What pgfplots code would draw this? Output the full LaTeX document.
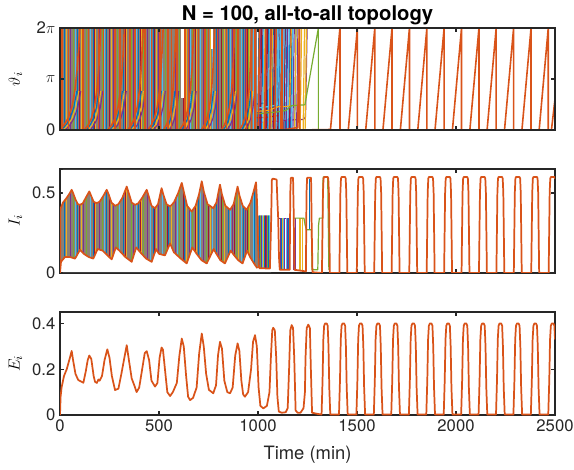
\documentclass[border=0pt]{standalone}
\usepackage{fontspec}
\setmainfont{TeX Gyre Heros}
\usepackage{pgfplots}
\pgfplotsset{compat=1.18}

% MATLAB line colours
\definecolor{mb}{rgb}{0,0.447,0.741}
\definecolor{mo}{rgb}{0.85,0.325,0.098}
\definecolor{my}{rgb}{0.929,0.694,0.125}
\definecolor{mp}{rgb}{0.494,0.184,0.556}
\definecolor{mg}{rgb}{0.466,0.674,0.188}
\definecolor{mc}{rgb}{0.301,0.745,0.933}
\definecolor{mr}{rgb}{0.635,0.078,0.184}
\definecolor{mix}{RGB}{140,128,118}

\pgfplotsset{
  mlab/.style={
    scale only axis, width=371.25pt,
    xmin=0, xmax=2500, xtick={0,500,...,2500},
    scaled ticks=false,
    /pgf/number format/1000 sep={},
    /pgf/number format/assume math mode=true,
    axis line style={draw=black!85, line width=1pt},
    tick style={draw=black!85, line width=1pt},
    major tick length=3pt,
    tick align=inside,
    ticklabel style={font=\fontsize{12.5}{14}\selectfont, text=black!85},
    ylabel style={font=\fontsize{13}{15}\selectfont, at={(axis description cs:-0.09,0.5)}, anchor=center},
    unbounded coords=jump,
    every axis plot/.append style={line join=round},
  }
}

\begin{document}
\begin{tikzpicture}
\useasboundingbox (0,0) rectangle (430.5pt,-352.5pt);

% ---------------- phases ----------------
\begin{axis}[mlab, at={(45pt,-97.5pt)}, anchor=south west, height=76.5pt,
  ymin=0, ymax=6.2832, ytick={0,3.1416,6.2832}, yticklabels={0,$\pi$,2$\pi$},
  xticklabels={}, axis on top,
  ylabel={$\vartheta_i$},
  title={N = 100, all-to-all topology},
  title style={font=\fontsize{15.2}{17}\selectfont\bfseries, at={(axis description cs:0.5,1)}, anchor=base, yshift=-0.5pt},
]
% dense phase cloud
\addplot[fill=mix, draw=none] coordinates {(0,0) (0,6.2832) (995,6.2832) (995,0)} -- cycle;
\addplot[ycomb, mb, line width=0.35pt] coordinates {(21,6.3)(88,6.3)(167,6.3)(232,6.3)(318,6.3)(397,6.3)(471,6.3)(548,6.3)(628,6.3)(700,6.3)(788,6.3)(850,6.3)(925,6.3)(980,6.3)};
\addplot[ycomb, my, line width=0.35pt] coordinates {(31,6.3)(105,6.3)(180,6.3)(260,6.3)(335,6.3)(410,6.3)(488,6.3)(560,6.3)(640,6.3)(690,6.3)(760,6.3)(830,6.3)(900,6.3)(958,6.3)};
\addplot[ycomb, mp, line width=0.35pt] coordinates {(52,6.3)(118,6.3)(200,6.3)(268,6.3)(370,6.3)(440,6.3)(495,6.3)(580,6.3)(655,6.3)(725,6.3)(800,6.3)(868,6.3)(935,6.3)};
\addplot[ycomb, mg, line width=0.35pt] coordinates {(65,6.3)(132,6.3)(212,6.3)(290,6.3)(360,6.3)(420,6.3)(530,6.3)(600,6.3)(668,6.3)(738,6.3)(820,6.3)(890,6.3)(950,6.3)};
\addplot[ycomb, mc, line width=0.35pt] coordinates {(78,6.3)(155,6.3)(225,6.3)(300,6.3)(385,6.3)(455,6.3)(515,6.3)(590,6.3)(660,6.3)(708,6.3)(770,6.3)(860,6.3)(915,6.3)(975,6.3)};
\addplot[ycomb, mr, line width=0.35pt] coordinates {(95,6.3)(172,6.3)(250,6.3)(330,6.3)(405,6.3)(478,6.3)(540,6.3)(620,6.3)(682,6.3)(750,6.3)(815,6.3)(880,6.3)(945,6.3)};
% white gaps in the cloud
\addplot[fill=white, draw=none] coordinates {(612,2.0) (612,6.3) (626,6.3) (626,2.0)} -- cycle;
\addplot[fill=white, draw=none] coordinates {(762,5.0) (762,6.3) (772,6.3) (772,5.0)} -- cycle;
% coloured waves below each fan
\addplot[mb, line width=0.8pt] coordinates {
 (10,.05)(30,.3)(50,.7)(70,1.4)(85,2.4) (nan,nan)
 (136,.05)(152,.3)(168,.7)(184,1.4)(196,2.4) (nan,nan)
 (255,.05)(271,.3)(287,.7)(303,1.4)(315,2.4) (nan,nan)
 (355,.05)(370,.3)(385,.7)(400,1.4)(411,2.4) (nan,nan)
 (456,.05)(471,.3)(486,.7)(501,1.4)(512,2.4) (nan,nan)
 (535,.05)(547,.3)(559,.7)(571,1.4)(580,2.4) (nan,nan)
 (616,.05)(630,.3)(644,.7)(658,1.4)(668,2.4) (nan,nan)
 (726,.05)(739,.3)(752,.7)(765,1.4)(775,2.4) (nan,nan)
 (827,.05)(840,.3)(853,.7)(866,1.4)(876,2.4) (nan,nan)
 (919,.05)(931,.3)(943,.7)(955,1.4)(964,2.4)};
\addplot[my, line width=0.8pt] coordinates {
 (20,.05)(40,.3)(60,.7)(80,1.4)(95,2.4) (nan,nan)
 (146,.05)(162,.3)(178,.7)(194,1.4)(206,2.4) (nan,nan)
 (265,.05)(281,.3)(297,.7)(313,1.4)(325,2.4) (nan,nan)
 (365,.05)(380,.3)(395,.7)(410,1.4)(421,2.4) (nan,nan)
 (466,.05)(481,.3)(496,.7)(511,1.4)(522,2.4) (nan,nan)
 (545,.05)(557,.3)(569,.7)(581,1.4)(590,2.4) (nan,nan)
 (626,.05)(640,.3)(654,.7)(668,1.4)(678,2.4) (nan,nan)
 (736,.05)(749,.3)(762,.7)(775,1.4)(785,2.4) (nan,nan)
 (837,.05)(850,.3)(863,.7)(876,1.4)(886,2.4) (nan,nan)
 (929,.05)(941,.3)(953,.7)(965,1.4)(974,2.4)};
\addplot[mp, line width=0.8pt] coordinates {
 (30,.05)(50,.3)(70,.7)(90,1.4)(105,2.4) (nan,nan)
 (156,.05)(172,.3)(188,.7)(204,1.4)(216,2.4) (nan,nan)
 (275,.05)(291,.3)(307,.7)(323,1.4)(335,2.4) (nan,nan)
 (375,.05)(390,.3)(405,.7)(420,1.4)(431,2.4) (nan,nan)
 (476,.05)(491,.3)(506,.7)(521,1.4)(532,2.4) (nan,nan)
 (555,.05)(567,.3)(579,.7)(591,1.4)(600,2.4) (nan,nan)
 (636,.05)(650,.3)(664,.7)(678,1.4)(688,2.4) (nan,nan)
 (746,.05)(759,.3)(772,.7)(785,1.4)(795,2.4) (nan,nan)
 (847,.05)(860,.3)(873,.7)(886,1.4)(896,2.4) (nan,nan)
 (939,.05)(951,.3)(963,.7)(975,1.4)(984,2.4)};
% desynchronised oscillators in the transition
\addplot[mb, line width=0.9pt] coordinates {(998,0)(1005,6.3)(nan,nan)(1018,0)(1025,6.3)(nan,nan)(1047,0)(1054,6.3)(nan,nan)(1070,0)(1077,6.3)(nan,nan)(1081,0)(1088,6.3)(nan,nan)(1096,0)(1103,6.3)(nan,nan)(1104,0)(1111,6.3)(nan,nan)(1112,0)(1119,6.3)(nan,nan)(1131,0)(1138,6.3)(nan,nan)(1140,0)(1147,6.3)(nan,nan)(1155,0)(1162,6.3)(nan,nan)(1165,0)(1172,6.3)(nan,nan)(1185,0)(1192,6.3)(nan,nan)(995,1.6)(1030,1.65)(1060,1.75)(1068,6.3)};
\addplot[mp, line width=0.9pt] coordinates {(1006,0)(1013,6.3)(nan,nan)(1037,0)(1044,6.3)(nan,nan)(1062,0)(1069,6.3)(nan,nan)(1088,0)(1095,6.3)(nan,nan)(1120,0)(1127,6.3)(nan,nan)(1143,0)(1150,6.3)(nan,nan)(1160,0)(1167,6.3)(nan,nan)(1176,0)(1183,6.3)(nan,nan)(1195,0)(1202,6.3)(nan,nan)(995,0.45)(1050,0.5)(1110,0.55)(1170,0.62)(1229,0.65)(1240,0.8)(1248,6.3)};
\addplot[mr, line width=0.9pt] coordinates {(1012,0)(1019,6.3)(nan,nan)(1041,0)(1048,6.3)(nan,nan)(1077,0)(1084,6.3)(nan,nan)(1100,0)(1107,6.3)(nan,nan)(1130,0)(1137,6.3)(nan,nan)(1158,0)(1165,6.3)(nan,nan)(995,0.75)(1040,0.78)(1080,0.85)(1110,0.9)(1118,6.3)};
\addplot[mc, line width=0.9pt] coordinates {(1024,0)(1031,6.3)(nan,nan)(1052,0)(1059,6.3)(nan,nan)(1090,0)(1097,6.3)(nan,nan)(1108,0)(1115,6.3)(nan,nan)(1125,0)(1132,6.3)(nan,nan)(1150,0)(1157,6.3)(nan,nan)(1170,0)(1177,6.3)(nan,nan)(995,1.35)(1040,1.42)(1080,1.5)(1100,1.55)(1106,6.3)};
\addplot[my, line width=0.9pt] coordinates {(1029,0)(1036,6.3)(nan,nan)(1066,0)(1073,6.3)(nan,nan)(1185,0)(1192,6.3)(nan,nan)(1200,0)(1207,6.3)(nan,nan)(1213,0)(1220,6.3)(nan,nan)(1228,0)(1235,6.3)(nan,nan)(1238,0)(1245,6.3)(nan,nan)(995,1.15)(1050,1.2)(1103,1.44)(1145,1.44)(1160,1.5)(1168,6.3)};
\addplot[mg, line width=0.9pt] coordinates {(995,1.0)(1040,1.05)(1090,1.1)(1140,1.2)(1170,1.5)(1237,1.55)(1305,6.3)(1305,0)(1330,0.02)};
% the last oscillator (drawn on top)
\addplot[ycomb, mo, line width=1.1pt] coordinates {(9,6.3)(43,6.3)(115,6.3)(143,6.3)(194,6.3)(219,6.3)(278,6.3)(303,6.3)(354,6.3)(379,6.3)(429,6.3)(463,6.3)(505,6.3)(545,6.3)(564,6.3)(590,6.3)(631,6.3)(650,6.3)(700,6.3)(732,6.3)(749,6.3)(795,6.3)(842,6.3)(875,6.3)(900,6.3)(942,6.3)(968,6.3)(985,6.3)};
\addplot[mo, line width=1.2pt] coordinates {
 (0,.05)(20,.3)(40,.7)(60,1.4)(75,2.4)(87,3.8)(95,5.2)(100,6.3) (nan,nan)
 (126,.05)(142,.3)(158,.7)(174,1.4)(186,2.4)(196,3.8)(202,5.2)(206,6.3) (nan,nan)
 (245,.05)(261,.3)(277,.7)(293,1.4)(305,2.4)(315,3.8)(321,5.2)(325,6.3) (nan,nan)
 (345,.05)(360,.3)(375,.7)(390,1.4)(401,2.4)(410,3.8)(416,5.2)(420,6.3) (nan,nan)
 (446,.05)(461,.3)(476,.7)(491,1.4)(502,2.4)(511,3.8)(517,5.2)(521,6.3) (nan,nan)
 (525,.05)(537,.3)(549,.7)(561,1.4)(570,2.4)(577,3.8)(582,5.2)(585,6.3) (nan,nan)
 (606,.05)(620,.3)(634,.7)(648,1.4)(658,2.4)(667,3.8)(672,5.2)(676,6.3) (nan,nan)
 (716,.05)(729,.3)(742,.7)(755,1.4)(765,2.4)(773,3.8)(778,5.2)(781,6.3) (nan,nan)
 (817,.05)(830,.3)(843,.7)(856,1.4)(866,2.4)(874,3.8)(879,5.2)(882,6.3) (nan,nan)
 (909,.05)(921,.3)(933,.7)(945,1.4)(954,2.4)(961,3.8)(966,5.2)(969,6.3) (nan,nan)
 (1001,0)(1008,6.3)(nan,nan)(1033,0)(1040,6.3)(nan,nan)(1058,0)(1065,6.3)(nan,nan)(1085,0)(1092,6.3)(nan,nan)
 (1115,0)(1122,6.3)(1122,0)(1200,0.15)(1210,6.3)(1210,0)(1366,0.03)
 (1414,6.2832)(1414,0)(1456,0)(1502,6.2832)(1502,0)(1544,0)(1590,6.2832)(1590,0)(1631,0)(1677,6.2832)(1677,0)(1719,0)
 (1765,6.2832)(1765,0)(1807,0)(1853,6.2832)(1853,0)(1894,0)(1940,6.2832)(1940,0)(1982,0)(2028,6.2832)(2028,0)(2070,0)
 (2116,6.2832)(2116,0)(2157,0)(2203,6.2832)(2203,0)(2245,0)(2291,6.2832)(2291,0)(2333,0)(2379,6.2832)(2379,0)(2420,0)
 (2466,6.2832)(2466,0)(2482,0)(2500,1.9)};
\end{axis}

% ---------------- I ----------------
\begin{axis}[mlab, at={(45pt,-204.75pt)}, anchor=south west, height=78pt,
  ymin=0, ymax=0.65, ytick={0,0.5}, xticklabels={},
  ylabel={$I_i$},
]
% band filled by the unsynchronised oscillators
\addplot[fill=mix, draw=none] coordinates {
 (0,0) (2,0.40) (15,0.44) (34,0.47) (50,0.50) (59,0.52) (66,0.50) (78,0.46) (90,0.43) (101,0.426) (115,0.435) (130,0.47)
 (148,0.51) (158,0.48) (170,0.445) (185,0.437) (200,0.445) (218,0.48) (236,0.52) (246,0.49) (260,0.44) (278,0.42) (295,0.43)
 (315,0.47) (337,0.54) (347,0.5) (362,0.44) (379,0.426) (395,0.435) (415,0.47) (438,0.52) (448,0.48) (462,0.42) (480,0.405)
 (495,0.43) (513,0.53) (522,0.49) (538,0.43) (556,0.416) (575,0.44) (597,0.5) (615,0.563) (625,0.51) (642,0.42) (665,0.384)
 (685,0.42) (702,0.49) (716,0.573) (726,0.51) (745,0.43) (774,0.405) (790,0.44) (808,0.552) (818,0.49) (835,0.42) (859,0.395)
 (877,0.43) (897,0.54) (907,0.48) (923,0.42) (943,0.395) (962,0.44) (978,0.51) (990,0.567) (995,0.45) (999,0.36) (1062,0.36)
 (1062,0.028) (997,0.03) (985,0.05) (960,0.10) (945,0.14) (922,0.06) (900,0.08) (880,0.11) (862,0.14) (833,0.06) (810,0.08)
 (790,0.12) (776,0.15) (741,0.06) (715,0.08) (690,0.12) (668,0.16) (640,0.06) (610,0.09) (575,0.13) (556,0.185) (530,0.11)
 (500,0.12) (485,0.15) (463,0.07) (435,0.09) (405,0.13) (385,0.16) (362,0.07) (330,0.10) (300,0.14) (282,0.16) (261,0.085)
 (240,0.11) (215,0.14) (190,0.15) (168,0.09) (145,0.10) (120,0.12) (101,0.145) (76,0.09) (50,0.10) (25,0.10) (5,0.07)} -- cycle;
% coloured traces inside the band
\addplot[mb, line width=0.35pt] coordinates {(21,0.01)(21,0.64)(nan,nan)(88,0.01)(88,0.64)(nan,nan)(167,0.01)(167,0.64)(nan,nan)(232,0.01)(232,0.64)(nan,nan)(318,0.01)(318,0.64)(nan,nan)(397,0.01)(397,0.64)(nan,nan)(471,0.01)(471,0.64)(nan,nan)(548,0.01)(548,0.64)(nan,nan)(628,0.01)(628,0.64)(nan,nan)(700,0.01)(700,0.64)(nan,nan)(788,0.01)(788,0.64)(nan,nan)(850,0.01)(850,0.64)(nan,nan)(925,0.01)(925,0.64)(nan,nan)(980,0.01)(980,0.64)(nan,nan)(1008,0.01)(1008,0.64)(nan,nan)(1030,0.01)(1030,0.64)(nan,nan)(1050,0.01)(1050,0.64)};
\addplot[my, line width=0.35pt] coordinates {(31,0.01)(31,0.64)(nan,nan)(105,0.01)(105,0.64)(nan,nan)(180,0.01)(180,0.64)(nan,nan)(260,0.01)(260,0.64)(nan,nan)(335,0.01)(335,0.64)(nan,nan)(410,0.01)(410,0.64)(nan,nan)(488,0.01)(488,0.64)(nan,nan)(560,0.01)(560,0.64)(nan,nan)(640,0.01)(640,0.64)(nan,nan)(690,0.01)(690,0.64)(nan,nan)(760,0.01)(760,0.64)(nan,nan)(830,0.01)(830,0.64)(nan,nan)(900,0.01)(900,0.64)(nan,nan)(958,0.01)(958,0.64)(nan,nan)(1025,0.01)(1025,0.64)};
\addplot[mp, line width=0.35pt] coordinates {(52,0.01)(52,0.64)(nan,nan)(118,0.01)(118,0.64)(nan,nan)(200,0.01)(200,0.64)(nan,nan)(268,0.01)(268,0.64)(nan,nan)(370,0.01)(370,0.64)(nan,nan)(440,0.01)(440,0.64)(nan,nan)(495,0.01)(495,0.64)(nan,nan)(580,0.01)(580,0.64)(nan,nan)(655,0.01)(655,0.64)(nan,nan)(725,0.01)(725,0.64)(nan,nan)(800,0.01)(800,0.64)(nan,nan)(868,0.01)(868,0.64)(nan,nan)(935,0.01)(935,0.64)(nan,nan)(1015,0.01)(1015,0.64)(nan,nan)(1042,0.01)(1042,0.64)};
\addplot[mg, line width=0.35pt] coordinates {(65,0.01)(65,0.64)(nan,nan)(132,0.01)(132,0.64)(nan,nan)(212,0.01)(212,0.64)(nan,nan)(290,0.01)(290,0.64)(nan,nan)(360,0.01)(360,0.64)(nan,nan)(420,0.01)(420,0.64)(nan,nan)(530,0.01)(530,0.64)(nan,nan)(600,0.01)(600,0.64)(nan,nan)(668,0.01)(668,0.64)(nan,nan)(738,0.01)(738,0.64)(nan,nan)(820,0.01)(820,0.64)(nan,nan)(890,0.01)(890,0.64)(nan,nan)(950,0.01)(950,0.64)(nan,nan)(1012,0.01)(1012,0.64)(nan,nan)(1046,0.01)(1046,0.64)};
\addplot[mc, line width=0.35pt] coordinates {(78,0.01)(78,0.64)(nan,nan)(155,0.01)(155,0.64)(nan,nan)(225,0.01)(225,0.64)(nan,nan)(300,0.01)(300,0.64)(nan,nan)(385,0.01)(385,0.64)(nan,nan)(455,0.01)(455,0.64)(nan,nan)(515,0.01)(515,0.64)(nan,nan)(590,0.01)(590,0.64)(nan,nan)(660,0.01)(660,0.64)(nan,nan)(708,0.01)(708,0.64)(nan,nan)(770,0.01)(770,0.64)(nan,nan)(860,0.01)(860,0.64)(nan,nan)(915,0.01)(915,0.64)(nan,nan)(975,0.01)(975,0.64)(nan,nan)(1020,0.01)(1020,0.64)(nan,nan)(1055,0.01)(1055,0.64)};
\addplot[mr, line width=0.35pt] coordinates {(95,0.01)(95,0.64)(nan,nan)(172,0.01)(172,0.64)(nan,nan)(250,0.01)(250,0.64)(nan,nan)(330,0.01)(330,0.64)(nan,nan)(405,0.01)(405,0.64)(nan,nan)(478,0.01)(478,0.64)(nan,nan)(540,0.01)(540,0.64)(nan,nan)(620,0.01)(620,0.64)(nan,nan)(682,0.01)(682,0.64)(nan,nan)(750,0.01)(750,0.64)(nan,nan)(815,0.01)(815,0.64)(nan,nan)(880,0.01)(880,0.64)(nan,nan)(945,0.01)(945,0.64)(nan,nan)(1035,0.01)(1035,0.64)};
% white outside the band
\addplot[fill=white, draw=none] coordinates {
 (15,0.645) (15,0.44) (34,0.47) (50,0.50) (59,0.52) (66,0.50) (78,0.46) (90,0.43) (101,0.426) (115,0.435) (130,0.47)
 (148,0.51) (158,0.48) (170,0.445) (185,0.437) (200,0.445) (218,0.48) (236,0.52) (246,0.49) (260,0.44) (278,0.42) (295,0.43)
 (315,0.47) (337,0.54) (347,0.5) (362,0.44) (379,0.426) (395,0.435) (415,0.47) (438,0.52) (448,0.48) (462,0.42) (480,0.405)
 (495,0.43) (513,0.53) (522,0.49) (538,0.43) (556,0.416) (575,0.44) (597,0.5) (615,0.563) (625,0.51) (642,0.42) (665,0.384)
 (685,0.42) (702,0.49) (716,0.573) (726,0.51) (745,0.43) (774,0.405) (790,0.44) (808,0.552) (818,0.49) (835,0.42) (859,0.395)
 (877,0.43) (897,0.54) (907,0.48) (923,0.42) (943,0.395) (962,0.44) (978,0.51) (990,0.567) (995,0.45) (999,0.36) (1062,0.36)
 (1066,0.36) (1066,0.645)} -- cycle;
\addplot[fill=white, draw=none] coordinates {
 (15,0.005) (15,0.085) (25,0.10) (50,0.10) (76,0.09) (101,0.145) (120,0.12) (145,0.10) (168,0.09) (190,0.15) (215,0.14)
 (240,0.11) (261,0.085) (282,0.16) (300,0.14) (330,0.10) (362,0.07) (385,0.16) (405,0.13) (435,0.09) (463,0.07) (485,0.15)
 (500,0.12) (530,0.11) (556,0.185) (575,0.13) (610,0.09) (640,0.06) (668,0.16) (690,0.12) (715,0.08) (741,0.06) (776,0.15)
 (790,0.12) (810,0.08) (833,0.06) (862,0.14) (880,0.11) (900,0.08) (922,0.06) (945,0.14) (960,0.10) (985,0.05) (997,0.03)
 (1062,0.028) (1066,0.028) (1066,0.005)} -- cycle;
% transition
\addplot[mp, line width=0.7pt] coordinates {(1104,0.343)(1160,0.343)(nan,nan)(1112,0.02)(1112,0.343)(nan,nan)(1135,0.02)(1135,0.343)(nan,nan)(1150,0.02)(1150,0.343)(nan,nan)(1180,0.02)(1180,0.343)(nan,nan)(1190,0.02)(1190,0.343)};
\addplot[mb, line width=0.7pt] coordinates {(1118,0.02)(1118,0.343)(nan,nan)(1142,0.02)(1142,0.343)(nan,nan)(1156,0.02)(1156,0.343)(nan,nan)(1262,0.27)(1262,0.59)};
\addplot[mc, line width=0.7pt] coordinates {(1130,0.02)(1130,0.343)(nan,nan)(1146,0.02)(1146,0.343)};
\addplot[my, line width=0.9pt] coordinates {(1125,0.02)(1125,0.343)(nan,nan)(1212,0.02)(1212,0.343)(1226,0.343)(1226,0.02)};
\addplot[mg, line width=0.9pt] coordinates {(1178,0.343)(1232,0.343)(1238,0.3)(1245,0.27)(1270,0.27)(1273,0.02)(1302,0.02)(1306,0.3)(1310,0.343)(1326,0.343)(1329,0.6)(1352,0.6)(1358,0.02)};
% the last oscillator
\addplot[mo, line width=1.3pt] coordinates {
 (0,0) (2,0.40) (15,0.44) (34,0.47) (50,0.50) (59,0.52) (66,0.50) (78,0.46) (90,0.43) (101,0.426) (115,0.435) (130,0.47)
 (148,0.51) (158,0.48) (170,0.445) (185,0.437) (200,0.445) (218,0.48) (236,0.52) (246,0.49) (260,0.44) (278,0.42) (295,0.43)
 (315,0.47) (337,0.54) (347,0.5) (362,0.44) (379,0.426) (395,0.435) (415,0.47) (438,0.52) (448,0.48) (462,0.42) (480,0.405)
 (495,0.43) (513,0.53) (522,0.49) (538,0.43) (556,0.416) (575,0.44) (597,0.5) (615,0.563) (625,0.51) (642,0.42) (665,0.384)
 (685,0.42) (702,0.49) (716,0.573) (726,0.51) (745,0.43) (774,0.405) (790,0.44) (808,0.552) (818,0.49) (835,0.42) (859,0.395)
 (877,0.43) (897,0.54) (907,0.48) (923,0.42) (943,0.395) (962,0.44) (978,0.51) (990,0.567) (995,0.45) (1000,0.2) (1005,0.03)};
\addplot[mo, line width=1.3pt] coordinates {
 (0,0) (5,0.07) (25,0.10) (50,0.10) (76,0.09) (101,0.145) (120,0.12) (145,0.10) (168,0.09) (190,0.15) (215,0.14)
 (240,0.11) (261,0.085) (282,0.16) (300,0.14) (330,0.10) (362,0.07) (385,0.16) (405,0.13) (435,0.09) (463,0.07) (485,0.15)
 (500,0.12) (530,0.11) (556,0.185) (575,0.13) (610,0.09) (640,0.06) (668,0.16) (690,0.12) (715,0.08) (741,0.06) (776,0.15)
 (790,0.12) (810,0.08) (833,0.06) (862,0.14) (880,0.11) (900,0.08) (922,0.06) (945,0.14) (960,0.10) (985,0.05) (997,0.03)};
\addplot[mo, line width=1.3pt] coordinates {
 (1005,0.03)(1060,0.028)(1066,0.3)(1070,0.58)(1074,0.59)(1094,0.584)(1098,0.45)(1102,0.34)(1106,0.1)(1110,0.02)(1160,0.02)
 (1163,0.5)(1166,0.595)(1177,0.595)(1180,0.4)(1184,0.02)(1242,0.01)(1245,0.5)(1248,0.595)(1268,0.595)(1271,0.3)(1275,0.005)
 (1323,0)(1328,0.5)(1331,0.59)(1334,0.6)(1352,0.6)(1355,0.59)(1358,0.5)(1363,0)
 (1411,0)(1416,0.5)(1419,0.59)(1422,0.6)(1440,0.6)(1443,0.59)(1446,0.5)(1451,0)
 (1499,0)(1504,0.5)(1507,0.59)(1510,0.6)(1528,0.6)(1531,0.59)(1534,0.5)(1539,0)
 (1587,0)(1592,0.5)(1595,0.59)(1598,0.6)(1616,0.6)(1619,0.59)(1622,0.5)(1627,0)
 (1675,0)(1680,0.5)(1683,0.59)(1686,0.6)(1704,0.6)(1707,0.59)(1710,0.5)(1715,0)
 (1764,0)(1769,0.5)(1772,0.59)(1775,0.6)(1793,0.6)(1796,0.59)(1799,0.5)(1804,0)
 (1852,0)(1857,0.5)(1860,0.59)(1863,0.6)(1881,0.6)(1884,0.59)(1887,0.5)(1892,0)
 (1940,0)(1945,0.5)(1948,0.59)(1951,0.6)(1969,0.6)(1972,0.59)(1975,0.5)(1980,0)
 (2028,0)(2033,0.5)(2036,0.59)(2039,0.6)(2057,0.6)(2060,0.59)(2063,0.5)(2068,0)
 (2116,0)(2121,0.5)(2124,0.59)(2127,0.6)(2145,0.6)(2148,0.59)(2151,0.5)(2156,0)
 (2204,0)(2209,0.5)(2212,0.59)(2215,0.6)(2233,0.6)(2236,0.59)(2239,0.5)(2244,0)
 (2292,0)(2297,0.5)(2300,0.59)(2303,0.6)(2321,0.6)(2324,0.59)(2327,0.5)(2332,0)
 (2380,0)(2385,0.5)(2388,0.59)(2391,0.6)(2409,0.6)(2412,0.59)(2415,0.5)(2420,0)
 (2468,0)(2473,0.5)(2476,0.59)(2479,0.6)(2497,0.6)(2500,0.59)};
\end{axis}

% ---------------- E ----------------
\begin{axis}[mlab, at={(45pt,-311.25pt)}, anchor=south west, height=77.25pt,
  ymin=0, ymax=0.45, ytick={0,0.2,0.4},
  ylabel={$E_i$},
  xlabel={Time (min)},
  xlabel style={font=\fontsize{13.8}{16}\selectfont, text=black!85, at={(axis description cs:0.5,0)}, anchor=base, yshift=-33pt},
]
\addplot[mo, line width=1.3pt] coordinates {
 (0,0) (3,0.08) (8,0.12) (20,0.17) (34,0.20) (50,0.25) (59,0.28) (66,0.24) (78,0.18) (92,0.153) (118,0.141) (130,0.19)
 (140,0.24) (148,0.26) (158,0.245) (170,0.17) (177,0.145) (186,0.14) (194,0.155) (200,0.15) (212,0.17) (225,0.24) (239,0.287)
 (250,0.25) (262,0.17) (278,0.109) (295,0.115) (310,0.18) (325,0.25) (337,0.305) (348,0.24) (362,0.16) (375,0.13) (387,0.10)
 (400,0.12) (415,0.2) (428,0.27) (438,0.279) (450,0.24) (462,0.15) (480,0.124) (492,0.14) (503,0.25) (513,0.295) (520,0.285)
 (530,0.2) (542,0.1) (556,0.083) (570,0.1) (590,0.14) (603,0.26) (615,0.334) (625,0.3) (637,0.17) (647,0.08) (657,0.065)
 (672,0.075) (690,0.12) (703,0.27) (716,0.356) (726,0.3) (738,0.18) (752,0.11) (774,0.095) (788,0.13) (798,0.26) (808,0.32)
 (818,0.29) (830,0.15) (845,0.1) (859,0.095) (872,0.12) (885,0.26) (897,0.313) (906,0.28) (916,0.15) (925,0.09) (934,0.08)
 (950,0.1) (965,0.2) (975,0.32) (985,0.349) (994,0.3) (1003,0.12) (1012,0.04) (1027,0.029) (1045,0.04) (1058,0.1) (1065,0.25)
 (1072,0.37) (1077,0.381) (1085,0.37) (1092,0.25) (1098,0.08) (1105,0.015) (1120,0.01) (1140,0.012) (1150,0.03) (1157,0.2)
 (1163,0.37) (1170,0.393) (1177,0.38) (1183,0.25) (1190,0.02) (1200,0.01) (1215,0.01) (1230,0.03) (1237,0.1) (1240,0.25)
 (1246,0.38) (1254,0.395) (1262,0.38) (1267,0.2) (1273,0.01) (1300,0.005)
 (1321,.002)(1326,.15)(1330,.33)(1334,.39)(1339,.40)(1347,.40)(1352,.39)(1356,.3)(1360,.12)(1365,.002)
 (1409,.002)(1414,.15)(1418,.33)(1422,.39)(1427,.40)(1435,.40)(1440,.39)(1444,.3)(1448,.12)(1453,.002)
 (1497,.002)(1502,.15)(1506,.33)(1510,.39)(1515,.40)(1523,.40)(1528,.39)(1532,.3)(1536,.12)(1541,.002)
 (1585,.002)(1590,.15)(1594,.33)(1598,.39)(1603,.40)(1611,.40)(1616,.39)(1620,.3)(1624,.12)(1629,.002)
 (1673,.002)(1678,.15)(1682,.33)(1686,.39)(1691,.40)(1699,.40)(1704,.39)(1708,.3)(1712,.12)(1717,.002)
 (1762,.002)(1767,.15)(1771,.33)(1775,.39)(1780,.40)(1788,.40)(1793,.39)(1797,.3)(1801,.12)(1806,.002)
 (1850,.002)(1855,.15)(1859,.33)(1863,.39)(1868,.40)(1876,.40)(1881,.39)(1885,.3)(1889,.12)(1894,.002)
 (1938,.002)(1943,.15)(1947,.33)(1951,.39)(1956,.40)(1964,.40)(1969,.39)(1973,.3)(1977,.12)(1982,.002)
 (2026,.002)(2031,.15)(2035,.33)(2039,.39)(2044,.40)(2052,.40)(2057,.39)(2061,.3)(2065,.12)(2070,.002)
 (2114,.002)(2119,.15)(2123,.33)(2127,.39)(2132,.40)(2140,.40)(2145,.39)(2149,.3)(2153,.12)(2158,.002)
 (2202,.002)(2207,.15)(2211,.33)(2215,.39)(2220,.40)(2228,.40)(2233,.39)(2237,.3)(2241,.12)(2246,.002)
 (2290,.002)(2295,.15)(2299,.33)(2303,.39)(2308,.40)(2316,.40)(2321,.39)(2325,.3)(2329,.12)(2334,.002)
 (2378,.002)(2383,.15)(2387,.33)(2391,.39)(2396,.40)(2404,.40)(2409,.39)(2413,.3)(2417,.12)(2422,.002)
 (2466,.002)(2471,.15)(2475,.33)(2479,.39)(2484,.40)(2492,.40)(2497,.39)(2500,.33)};
\end{axis}
\end{tikzpicture}
\end{document}
